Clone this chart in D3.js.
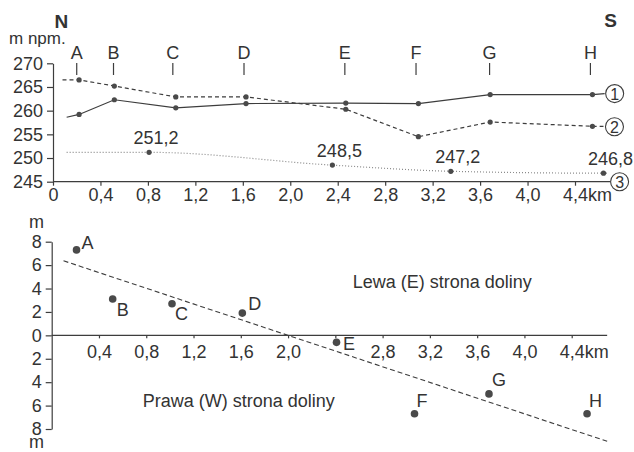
<!DOCTYPE html>
<html>
<head>
<meta charset="utf-8">
<script src="https://cdn.jsdelivr.net/npm/d3@7/dist/d3.min.js"></script>
<style>
  html, body { margin: 0; padding: 0; background: #fff; }
  svg { display: block; }
  text { font-family: "Liberation Sans", Arial, sans-serif; fill: #333; }
</style>
</head>
<body>
<svg id="chart" width="634" height="452"></svg>
<script>
// ---------- DATA ----------
const stations = ["A", "B", "C", "D", "E", "F", "G", "H"];
const stationTickKm = [0.2, 0.51, 1.01, 1.61, 2.46, 3.06, 3.68, 4.53];

// top profile (m npm.)
const profileKm = [0.22, 0.517, 1.035, 1.627, 2.468, 3.08, 3.685, 4.547];
const line1 = [259.2, 262.3, 260.6, 261.5, 261.6, 261.5, 263.4, 263.4];
const line1Start = [0.115, 258.6];
const line1End = [4.65, 263.6];
const line2 = [266.5, 265.2, 262.9, 262.9, 260.3, 254.5, 257.6, 256.7];
const line2Start = [0.08, 266.5];
const line2End = [4.64, 256.7];

// line 3 (dotted) with labelled points
const line3Km = [0.81, 2.355, 3.353, 4.64];
const line3Val = [251.2, 248.5, 247.2, 246.8];
const line3Labels = ["251,2", "248,5", "247,2", "246,8"];
const line3Start = [0.115, 251.2];
const line3End = [4.68, 246.8];

const topYTicks = [245, 250, 255, 260, 265, 270];
const topXTicks = [0, 0.4, 0.8, 1.2, 1.6, 2.0, 2.4, 2.8, 3.2, 3.6, 4.0, 4.4];
const xTickLabels = ["0", "0,4", "0,8", "1,2", "1,6", "2,0", "2,4", "2,8", "3,2", "3,6", "4,0", "4,4"];

// bottom deviation chart (m)
const devKm = [0.21, 0.516, 1.018, 1.613, 2.41, 3.07, 3.70, 4.53];
const devVal = [7.3, 3.1, 2.7, 1.9, -0.6, -6.7, -5.0, -6.7];
const trendLine = [[0.1, 6.37], [4.7, -9.05]];
const botYTicks = [-8, -6, -4, -2, 0, 2, 4, 6, 8];
const botXTicks = [0.4, 0.8, 1.2, 1.6, 2.0, 2.4, 2.8, 3.2, 3.6, 4.0, 4.4];
const botXLabelled = ["0,4", "0,8", "1,2", "1,6", "2,0", "", "2,8", "3,2", "3,6", "4,0", "4,4"];

// ---------- DRAW ----------
const svg = d3.select("#chart");
const INK = "#3d3d3d";
const FS = 18;

// scales
const xTop = d3.scaleLinear().domain([0, 4.4]).range([53, 575]);
const yTop = d3.scaleLinear().domain([245, 270]).range([181.7, 63.3]);
const xBot = d3.scaleLinear().domain([0, 4.4]).range([51.7, 571.7]);
const yBot = d3.scaleLinear().domain([-8, 8]).range([429, 241.7]);

function styleAxis(g) {
  g.selectAll("path, line").attr("stroke", INK).attr("stroke-width", 1.2);
  g.selectAll("text").attr("font-size", FS).attr("fill", "#333")
    .attr("font-family", '"Liberation Sans", Arial, sans-serif');
}

// ---- top chart ----
// y axis
const gTopY = svg.append("g").attr("transform", `translate(${xTop(0)},0)`)
  .call(d3.axisLeft(yTop).tickValues(topYTicks).tickSize(6).tickSizeOuter(0).tickPadding(4).tickFormat(d => d));
styleAxis(gTopY);

// x axis
const gTopX = svg.append("g").attr("transform", `translate(0,${yTop(245)})`)
  .call(d3.axisBottom(xTop).tickValues(topXTicks).tickSize(4).tickSizeOuter(0).tickPadding(2.5)
    .tickFormat((d, i) => xTickLabels[i]));
gTopX.select(".domain").remove();
gTopX.append("line").attr("x1", xTop(0)).attr("x2", xTop(4.7)).attr("y1", 0).attr("y2", 0);
styleAxis(gTopX);

function kmSuffix(g) {
  const t = g.selectAll(".tick text").filter((d, i, n) => i === n.length - 1);
  const w = t.node().getComputedTextLength();
  t.attr("text-anchor", "start").attr("x", -w / 2);
  t.append("tspan").text("km");
}
kmSuffix(gTopX);

// station markers
stations.forEach((s, i) => {
  const x = xTop(stationTickKm[i]);
  svg.append("text").attr("x", x).attr("y", 52.5).attr("text-anchor", "middle")
    .attr("dominant-baseline", "central").attr("font-size", FS).text(s);
  svg.append("line").attr("x1", x).attr("x2", x).attr("y1", 63).attr("y2", 75)
    .attr("stroke", INK).attr("stroke-width", 1.2);
});

// N / S / unit
svg.append("text").attr("x", xTop(0.07)).attr("y", 27.5).attr("text-anchor", "middle")
  .attr("font-size", 19).attr("font-weight", "bold").text("N");
svg.append("text").attr("x", xTop(4.7)).attr("y", 27).attr("text-anchor", "middle")
  .attr("font-size", 19).attr("font-weight", "bold").text("S");
svg.append("text").attr("x", 9).attr("y", 43.5).attr("font-size", 17).text("m npm.");

const lineGen = d3.line().x(d => xTop(d[0])).y(d => yTop(d[1]));

const pts1 = [line1Start, ...profileKm.map((k, i) => [k, line1[i]]), line1End];
const pts2 = [line2Start, ...profileKm.map((k, i) => [k, line2[i]]), line2End];
const pts3 = [line3Start, ...line3Km.map((k, i) => [k, line3Val[i]]), line3End];

svg.append("path").attr("d", lineGen.curve(d3.curveMonotoneX)(pts3))
  .attr("fill", "none").attr("stroke", "#8a8a8a").attr("stroke-width", 1.2)
  .attr("stroke-dasharray", "1,2");
lineGen.curve(d3.curveLinear);
svg.append("path").attr("d", lineGen(pts1)).attr("fill", "none").attr("stroke", INK).attr("stroke-width", 1.2);
svg.append("path").attr("d", lineGen(pts2)).attr("fill", "none").attr("stroke", INK).attr("stroke-width", 1.2)
  .attr("stroke-dasharray", "4,3");

profileKm.forEach((k, i) => {
  svg.append("circle").attr("cx", xTop(k)).attr("cy", yTop(line1[i])).attr("r", 2.6).attr("fill", "#4a4a4a");
  svg.append("circle").attr("cx", xTop(k)).attr("cy", yTop(line2[i])).attr("r", 2.6).attr("fill", "#4a4a4a");
});
line3Km.forEach((k, i) => {
  svg.append("circle").attr("cx", xTop(k)).attr("cy", yTop(line3Val[i])).attr("r", 2.6).attr("fill", "#4a4a4a");
  svg.append("text").attr("x", xTop(k) + 7).attr("y", yTop(line3Val[i]) - 8)
    .attr("text-anchor", "middle").attr("font-size", FS).text(line3Labels[i]);
});

// circled numbers
function circled(cx, cy, label) {
  svg.append("circle").attr("cx", cx).attr("cy", cy).attr("r", 9)
    .attr("fill", "#fff").attr("stroke", INK).attr("stroke-width", 1.1);
  svg.append("text").attr("x", cx).attr("y", cy + 0.5).attr("text-anchor", "middle")
    .attr("dominant-baseline", "central").attr("font-size", 16).text(label);
}
circled(xTop(line1End[0]) + 10, yTop(line1End[1]), "1");
circled(xTop(line2End[0]) + 11, yTop(line2End[1]) + 0.5, "2");
circled(xTop(4.7) + 9, yTop(245), "3");

// ---- bottom chart ----
const gBotY = svg.append("g").attr("transform", `translate(${xBot(0)},0)`)
  .call(d3.axisLeft(yBot).tickValues(botYTicks).tickSize(6).tickSizeOuter(0).tickPadding(4)
    .tickFormat(d => Math.abs(d)));
styleAxis(gBotY);

const gBotX = svg.append("g").attr("transform", `translate(0,${yBot(0)})`)
  .call(d3.axisBottom(xBot).tickValues(botXTicks).tickSize(3).tickSizeOuter(0).tickPadding(6.5)
    .tickFormat((d, i) => botXLabelled[i]));
gBotX.select(".domain").remove();
gBotX.append("line").attr("x1", xBot(0)).attr("x2", xBot(4.7)).attr("y1", 0).attr("y2", 0);
styleAxis(gBotX);
kmSuffix(gBotX);

svg.append("text").attr("x", 36.5).attr("y", 227.5).attr("text-anchor", "middle").attr("font-size", FS).text("m");
svg.append("text").attr("x", 36.5).attr("y", 448).attr("text-anchor", "middle").attr("font-size", FS).text("m");

// trend line
svg.append("line")
  .attr("x1", xBot(trendLine[0][0])).attr("y1", yBot(trendLine[0][1]))
  .attr("x2", xBot(trendLine[1][0])).attr("y2", yBot(trendLine[1][1]))
  .attr("stroke", INK).attr("stroke-width", 1.1).attr("stroke-dasharray", "5,3");

const labelOffsets = [[5, -7], [4, 11], [3, 10], [6, -9], [6.5, 2], [2, -13], [3, -14], [2, -13]];
devKm.forEach((k, i) => {
  const cx = xBot(k), cy = yBot(devVal[i]);
  svg.append("circle").attr("cx", cx).attr("cy", cy).attr("r", 3.8).attr("fill", "#4a4a4a");
  svg.append("text").attr("x", cx + labelOffsets[i][0]).attr("y", cy + labelOffsets[i][1])
    .attr("dominant-baseline", "central").attr("font-size", FS).text(stations[i]);
});

svg.append("text").attr("x", 352.7).attr("y", 282).attr("dominant-baseline", "central")
  .attr("font-size", FS).text("Lewa (E) strona doliny");
svg.append("text").attr("x", 142.7).attr("y", 401).attr("dominant-baseline", "central")
  .attr("font-size", FS).text("Prawa (W) strona doliny");
</script>
</body>
</html>
